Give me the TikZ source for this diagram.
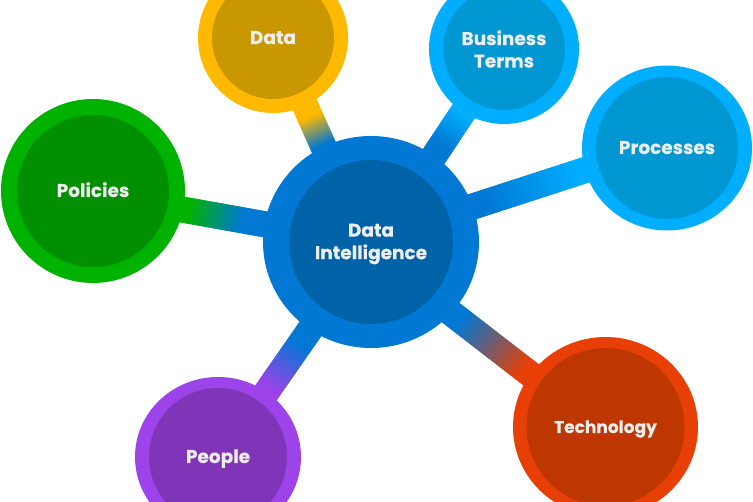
\documentclass[tikz,border=0pt]{standalone}
\usepackage{fontspec}
\setmainfont{Poppins}[BoldFeatures={FakeBold=0.3}]
\usetikzlibrary{calc,positioning}

\definecolor{hubouter}{HTML}{0078D4}
\definecolor{hubinner}{HTML}{0063A7}
\definecolor{dataouter}{HTML}{FFB900}
\definecolor{datainner}{HTML}{C99700}
\definecolor{termsouter}{HTML}{00AEFF}
\definecolor{termsinner}{HTML}{0097D3}
\definecolor{policyouter}{HTML}{00B200}
\definecolor{policyinner}{HTML}{008F00}
\definecolor{peopleouter}{HTML}{9D43EA}
\definecolor{peopleinner}{HTML}{8035B8}
\definecolor{techouter}{HTML}{E73F05}
\definecolor{techinner}{HTML}{BF3700}

\tikzset{
  ring/.style={circle,inner sep=0pt,outer sep=0pt,text=white!93!black,
    font=\bfseries\fontsize{18.5}{22.5}\selectfont,align=center},
  oneline/.style={ring,text height=12pt,text depth=0pt},
}

% spoke: start, end, end colour, percent where the blend starts and stops
\newcommand{\spoke}[5]{
  \foreach \s in {0,...,119}{
    \pgfmathsetmacro{\mixval}{min(100,max(0,(\s/1.2-#4)*100/(#5-#4)))}
    \draw[line width=26pt,color=#3!\mixval!hubouter]
      ($(#1)!\s/120!(#2)$) -- ($(#1)!\s/120+0.015!(#2)$);
  }
}

\begin{document}
\begin{tikzpicture}[x=1pt,y=-1pt]
  \useasboundingbox (0,0) rectangle (753,502);
  \clip (0,0) rectangle (753,502);
  \coordinate (hub) at (371,242);
  \coordinate (data) at (273,38);
  \coordinate (terms) at (504,49);
  \coordinate (processes) at (667,148);
  \coordinate (policies) at (93,191);
  \coordinate (people) at (218,457);
  \coordinate (technology) at (605.5,427);

  % the bars miss the centres by a few pixels
  \coordinate (dataroot) at (366,242);
  \coordinate (datatip) at (275,38);
  \coordinate (termsroot) at (377,242);
  \coordinate (termstip) at (505,49);
  \coordinate (processesroot) at (371,239.6);
  \coordinate (processestip) at (667,143.5);
  \coordinate (policiesroot) at (371,243.4);
  \coordinate (policiestip) at (93,193.5);
  \coordinate (peopletip) at (222,456);
  \coordinate (technologyroot) at (371,251);
  \coordinate (technologytip) at (605,432);

  % spokes go first, circles sit on top
  \spoke{dataroot}{datatip}{dataouter}{47}{61}
  \spoke{termsroot}{termstip}{termsouter}{50}{66}
  \spoke{processesroot}{processestip}{termsouter}{38}{70}
  \spoke{policiesroot}{policiestip}{policyouter}{46}{65}
  \spoke{hub}{peopletip}{peopleouter}{47}{68}
  \spoke{technologyroot}{technologytip}{techouter}{38}{65}

  \fill[hubouter] (hub) ellipse [x radius=108,y radius=106];
  \fill[hubinner] (hub) circle (82);
  \fill[dataouter] (data) circle (75);
  \fill[termsouter] (terms) circle (75);
  \fill[termsouter] (processes) ellipse [x radius=85,y radius=82.5];
  \fill[policyouter] (policies) circle (92);
  \fill[peopleouter] (people) ellipse [x radius=83,y radius=80];
  \fill[techouter] (technology) ellipse [x radius=92.5,y radius=90];

  \node[ring] (hubtext) at ($(hub)+(0,2)$) {Data\\Intelligence};
  \node[oneline,fill=datainner,minimum size=122pt] (datatext) at (data) {Data};
  \node[ring,fill=termsinner,minimum size=122pt] (termstext) at (terms) {Business\\Terms};
  \node[oneline,fill=termsinner,minimum size=142pt] (processestext) at (processes) {Processes};
  \node[oneline,fill=policyinner,minimum size=152pt] (policiestext) at (policies) {Policies};
  \node[oneline,fill=peopleinner,minimum size=138pt] (peopletext) at (people) {People};
  \node[oneline,fill=techinner,minimum size=158pt,font=\bfseries\fontsize{17}{22}\selectfont] (technologytext) at (technology) {Technology};
\end{tikzpicture}
\end{document}
